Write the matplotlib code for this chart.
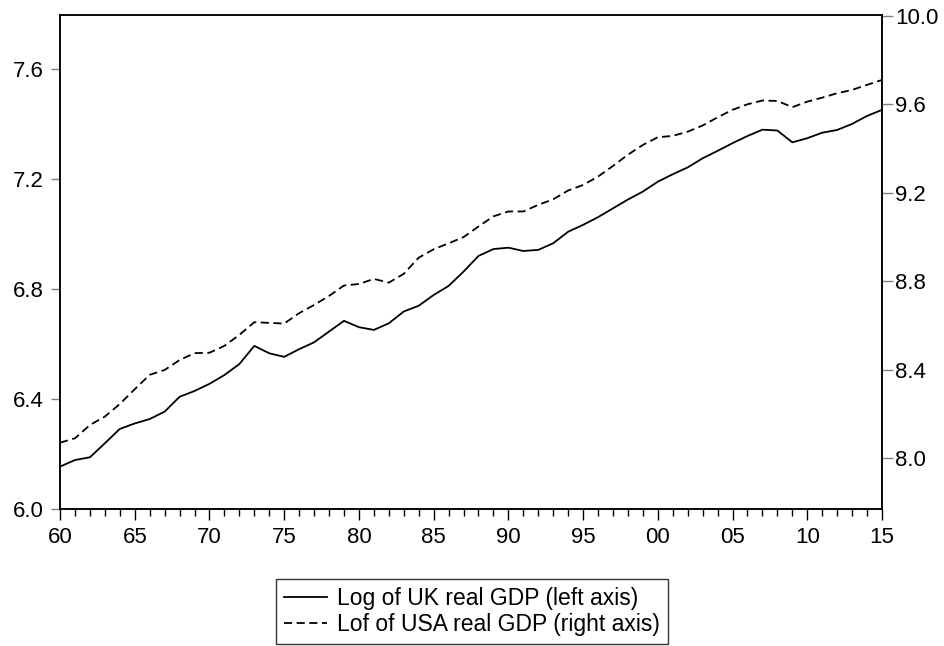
import matplotlib
matplotlib.use("Agg")
import matplotlib.pyplot as plt
from matplotlib.ticker import MultipleLocator, FixedLocator

plt.rcParams["font.family"] = ["Liberation Sans", "DejaVu Sans"]

# annual data, 1960-2015
years = list(range(1960, 2016))

uk_log_gdp = [
    6.154, 6.178, 6.188, 6.239, 6.291, 6.311, 6.327, 6.354, 6.408, 6.429,
    6.455, 6.487, 6.527, 6.593, 6.566, 6.553, 6.581, 6.606, 6.645, 6.684,
    6.661, 6.651, 6.675, 6.718, 6.739, 6.778, 6.811, 6.863, 6.920, 6.945,
    6.950, 6.938, 6.942, 6.966, 7.008, 7.033, 7.061, 7.093, 7.125, 7.154,
    7.190, 7.217, 7.242, 7.275, 7.302, 7.330, 7.356, 7.379, 7.376, 7.333,
    7.348, 7.368, 7.378, 7.400, 7.429, 7.451,
]

usa_log_gdp = [
    8.069, 8.089, 8.149, 8.187, 8.244, 8.311, 8.376, 8.398, 8.443, 8.474,
    8.476, 8.507, 8.557, 8.614, 8.611, 8.608, 8.655, 8.692, 8.733, 8.780,
    8.787, 8.810, 8.793, 8.833, 8.906, 8.944, 8.971, 8.999, 9.047, 9.093,
    9.115, 9.115, 9.145, 9.170, 9.210, 9.235, 9.273, 9.321, 9.372, 9.416,
    9.451, 9.457, 9.476, 9.504, 9.541, 9.575, 9.600, 9.617, 9.615, 9.587,
    9.612, 9.630, 9.650, 9.665, 9.688, 9.710,
]

x_ticks = list(range(1960, 2016, 5))
x_labels = ["60", "65", "70", "75", "80", "85", "90", "95", "00", "05", "10", "15"]
left_ticks = [6.0, 6.4, 6.8, 7.2, 7.6]
right_ticks = [8.0, 8.4, 8.8, 9.2, 9.6, 10.0]

fs = 16

fig = plt.figure(figsize=(9.44, 6.46), dpi=100)
ax = fig.add_axes([0.0636, 0.2121, 0.8707, 0.7647])
ax2 = ax.twinx()

l1, = ax.plot(years, uk_log_gdp, color="black", lw=1.3)
l2, = ax2.plot(years, usa_log_gdp, color="black", lw=1.3, dashes=(4.5, 2.5))

ax.set_xlim(1960, 2015)
ax.set_ylim(6.0, 7.796)
ax2.set_ylim(7.769, 10.004)

ax.xaxis.set_major_locator(FixedLocator(x_ticks))
ax.set_xticklabels(x_labels)
ax.xaxis.set_minor_locator(MultipleLocator(1))
ax.set_yticks(left_ticks)
ax.set_yticklabels([f"{v:.1f}" for v in left_ticks])
ax2.set_yticks(right_ticks)
ax2.set_yticklabels([f"{v:.1f}" for v in right_ticks])

for a in (ax, ax2):
    for s in a.spines.values():
        s.set_linewidth(1.1)
        s.set_color("black")

ax.tick_params(axis="x", which="major", length=8, width=1.0, direction="out",
               labelsize=fs, pad=5, color="black")
ax.tick_params(axis="x", which="minor", length=5, width=1.0, direction="out",
               color="black")
ax.tick_params(axis="y", length=6.5, width=1.0, color="#808080",
               labelsize=fs, pad=5)
ax2.tick_params(axis="y", length=8, width=1.0, color="#808080",
                labelsize=fs, pad=1.5)

leg = fig.legend([l1, l2],
                 ["Log of UK real GDP (left axis)", "Lof of USA real GDP (right axis)"],
                 loc="lower center", bbox_to_anchor=(0.5, 0.003), fontsize=16.5,
                 frameon=True, fancybox=False, edgecolor="black",
                 handlelength=1.9, handletextpad=0.45, borderpad=0.35,
                 labelspacing=0.15, borderaxespad=0)
leg.get_frame().set_linewidth(1.0)

fig.savefig("out.png", dpi=100)
